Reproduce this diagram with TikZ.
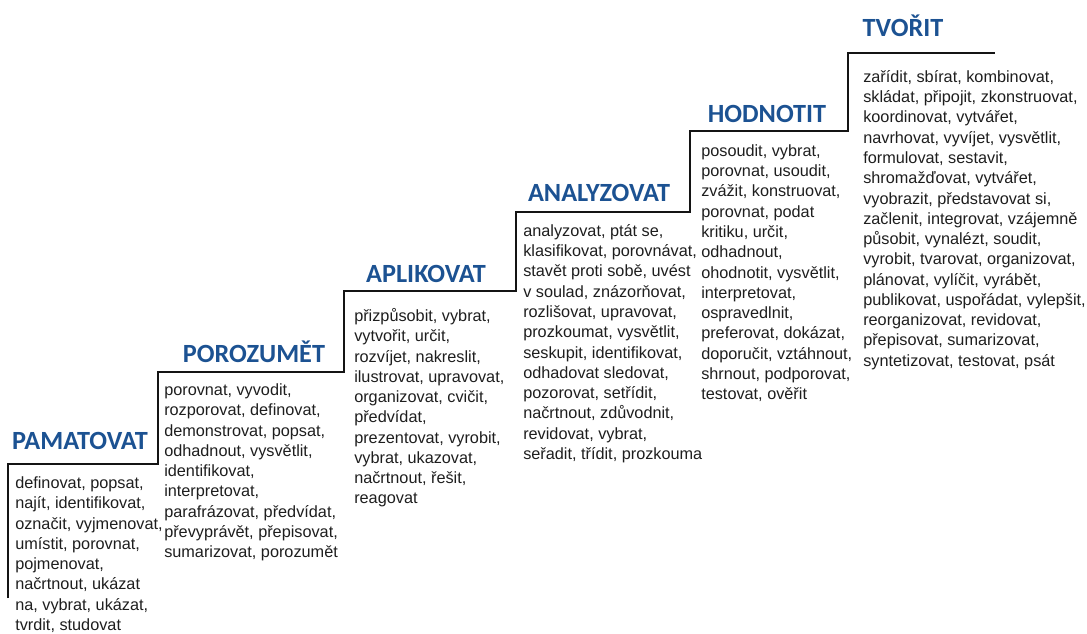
\documentclass[tikz,border=0pt]{standalone}
\usepackage{fontspec}
\setmainfont{Liberation Sans}
\newfontfamily\stepfont{Carlito}
\definecolor{stepblue}{RGB}{28,82,146}
\definecolor{verbgray}{RGB}{30,30,30}

\begin{document}
\begin{tikzpicture}[x=0.75pt, y=-0.75pt,
	level/.style={anchor=base, inner sep=0pt, text=stepblue, font=\stepfont\bfseries\fontsize{19.7}{23}\selectfont},
	verbs/.style={anchor=north west, inner sep=0pt, align=left, text=verbgray, font=\fontsize{12.2}{15.2}\selectfont}]
	%%%%% START %%%%%
	\useasboundingbox (0, 0) rectangle (1087, 633);
	
	\draw[line width=2.2pt, color=black!92] (8, 598) -- (8, 464) -- (158, 464) -- (158, 372) -- (344, 372) -- (344, 291) -- (516, 291) -- (516, 212) -- (690, 212) -- (690, 131) -- (848, 131) -- (848, 53) -- (995, 53);
	
	\node[level] (pamatovat) at (80, 449) {PAMATOVAT};
	\node[level] (porozumet) at (254, 362) {POROZUMĚT};
	\node[level] (aplikovat) at (426, 282) {APLIKOVAT};
	\node[level] (analyzovat) at (599, 201) {ANALYZOVAT};
	\node[level] (hodnotit) at (767, 122) {HODNOTIT};
	\node[level] (tvorit) at (903, 36) {TVOŘIT};
	
	\node[verbs] (pamatovatverbs) at (15, 474) {\strut definovat, popsat,\\ najít, identifikovat,\\ označit, vyjmenovat,\\ umístit, porovnat,\\ pojmenovat,\\ načrtnout, ukázat\\ na, vybrat, ukázat,\\ tvrdit, studovat};
	
	\node[verbs] (porozumetverbs) at (164, 381) {\strut porovnat, vyvodit,\\ rozporovat, definovat,\\ demonstrovat, popsat,\\ odhadnout, vysvětlit,\\ identifikovat,\\ interpretovat,\\ parafrázovat, předvídat,\\ převyprávět, přepisovat,\\ sumarizovat, porozumět};
	
	\node[verbs] (aplikovatverbs) at (354, 307) {\strut přizpůsobit, vybrat,\\ vytvořit, určit,\\ rozvíjet, nakreslit,\\ ilustrovat, upravovat,\\ organizovat, cvičit,\\ předvídat,\\ prezentovat, vyrobit,\\ vybrat, ukazovat,\\ načrtnout, řešit,\\ reagovat};
	
	\node[verbs] (analyzovatverbs) at (523, 222) {\strut analyzovat, ptát se,\\ klasifikovat, porovnávat,\\ stavět proti sobě, uvést\\ v soulad, znázorňovat,\\ rozlišovat, upravovat,\\ prozkoumat, vysvětlit,\\ seskupit, identifikovat,\\ odhadovat sledovat,\\ pozorovat, setřídit,\\ načrtnout, zdůvodnit,\\ revidovat, vybrat,\\ seřadit, třídit, prozkouma};
	
	\node[verbs] (hodnotitverbs) at (701, 142) {\strut posoudit, vybrat,\\ porovnat, usoudit,\\ zvážit, konstruovat,\\ porovnat, podat\\ kritiku, určit,\\ odhadnout,\\ ohodnotit, vysvětlit,\\ interpretovat,\\ ospravedlnit,\\ preferovat, dokázat,\\ doporučit, vztáhnout,\\ shrnout, podporovat,\\ testovat, ověřit};
	
	\node[verbs] (tvoritverbs) at (863, 68) {\strut zařídit, sbírat, kombinovat,\\ skládat, připojit, zkonstruovat,\\ koordinovat, vytvářet,\\ navrhovat, vyvíjet, vysvětlit,\\ formulovat, sestavit,\\ shromažďovat, vytvářet,\\ vyobrazit, představovat si,\\ začlenit, integrovat, vzájemně\\ působit, vynalézt, soudit,\\ vyrobit, tvarovat, organizovat,\\ plánovat, vylíčit, vyrábět,\\ publikovat, uspořádat, vylepšit,\\ reorganizovat, revidovat,\\ přepisovat, sumarizovat,\\ syntetizovat, testovat, psát};
	
	%%%%% END %%%%%
\end{tikzpicture}
\end{document}
